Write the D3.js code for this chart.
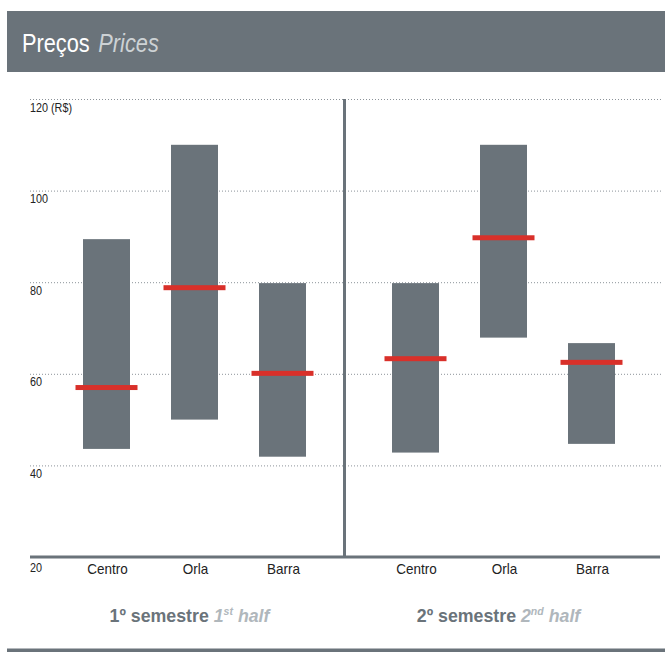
<!DOCTYPE html>
<html>
<head>
<meta charset="utf-8">
<script src="https://cdn.jsdelivr.net/npm/d3@7"></script>
<style>
  html, body { margin: 0; padding: 0; background: #fff; }
  svg { display: block; font-family: "Liberation Sans", Arial, sans-serif; }
</style>
</head>
<body>
<svg id="chart" width="665" height="652"></svg>
<script>
const categories = ["Centro", "Orla", "Barra"];
const semesters = ["1º semestre", "2º semestre"];
const semestersEn = [["1", "st"], ["2", "nd"]];
const minValues = [[43.6, 50, 41.9], [42.8, 67.9, 44.7]];
const maxValues = [[89.4, 110, 79.8], [79.8, 110, 66.7]];
const medianValues = [[57.0, 78.8, 60.1], [63.3, 89.7, 62.5]];
const yTicks = [20, 40, 60, 80, 100, 120];
const yTickLabels = ["20", "40", "60", "80", "100", "120 (R$)"];

const gray = "#6a737a";
const light = "#b0b7bc";
const red = "#d9302a";

const svg = d3.select("#chart");

// Header
svg.append("rect").attr("x", 7).attr("y", 11).attr("width", 658).attr("height", 61).attr("fill", gray);
const title = svg.append("g").attr("transform", "translate(22,52) scale(0.87,1)")
  .append("text").attr("font-size", 25);
title.append("tspan").attr("fill", "#fff").text("Preços");
title.append("tspan").attr("fill", "#cdd2d5").attr("font-style", "italic").attr("dx", 10).text("Prices");

const y = d3.scaleLinear().domain([20, 120]).range([557, 99]);

// gridlines
svg.append("g").selectAll("line").data(yTicks.filter(t => t > 20)).join("line")
  .attr("x1", 30).attr("x2", 661)
  .attr("y1", d => y(d) + 0.5).attr("y2", d => y(d) + 0.5)
  .attr("stroke", "#8c9399").attr("stroke-width", 1).attr("stroke-dasharray", "1,2");

// y tick labels
svg.append("g").selectAll("g").data(yTicks).join("g")
  .attr("transform", d => `translate(30,${y(d) + (d === 20 ? 15 : 12.5)}) scale(0.9,1)`)
  .append("text")
  .attr("font-size", 12).attr("fill", "#222")
  .text((d, i) => yTickLabels[i]);

const panelRanges = [[106.5, 282.5], [415.5, 591.5]];
const barW = 47, medW = 62, medH = 5;

semesters.forEach((sem, p) => {
  const x = d3.scalePoint().domain(categories).range(panelRanges[p]);
  const g = svg.append("g");
  g.selectAll("rect.bar").data(categories).join("rect").attr("class", "bar")
    .attr("x", d => x(d) - barW / 2)
    .attr("width", barW)
    .attr("y", (d, i) => y(maxValues[p][i]))
    .attr("height", (d, i) => y(minValues[p][i]) - y(maxValues[p][i]))
    .attr("fill", gray);
  g.selectAll("rect.med").data(categories).join("rect").attr("class", "med")
    .attr("x", d => x(d) - medW / 2)
    .attr("width", medW)
    .attr("y", (d, i) => y(medianValues[p][i]) - medH / 2)
    .attr("height", medH)
    .attr("fill", red);
  g.selectAll("g.cat").data(categories).join("g").attr("class", "cat")
    .attr("transform", d => `translate(${x(d) + 1},573.5) scale(0.9,1)`)
    .append("text")
    .attr("text-anchor", "middle").attr("font-size", 15).attr("fill", "#222")
    .text(d => d);

  const cx = (panelRanges[p][0] + panelRanges[p][1]) / 2 - 5;
  const t = g.append("g").attr("transform", `translate(${cx},622) scale(0.96,1)`)
    .append("text").attr("text-anchor", "middle")
    .attr("font-size", 18.5).attr("font-weight", "bold");
  t.append("tspan").attr("fill", gray).text(sem + " ");
  t.append("tspan").attr("fill", light).attr("font-style", "italic").text(semestersEn[p][0]);
  t.append("tspan").attr("fill", light).attr("font-style", "italic").attr("font-size", 11).attr("dy", -7).text(semestersEn[p][1]);
  t.append("tspan").attr("fill", light).attr("font-style", "italic").attr("dy", 7).text(" half");
});

// divider
svg.append("line").attr("x1", 344.5).attr("x2", 344.5).attr("y1", y(120)).attr("y2", y(20))
  .attr("stroke", gray).attr("stroke-width", 3);
// bottom axis
svg.append("line").attr("x1", 30).attr("x2", 660).attr("y1", y(20)).attr("y2", y(20))
  .attr("stroke", gray).attr("stroke-width", 3);
// bottom rule
svg.append("rect").attr("x", 7).attr("y", 648.5).attr("width", 658).attr("height", 3.5).attr("fill", gray);
</script>
</body>
</html>
